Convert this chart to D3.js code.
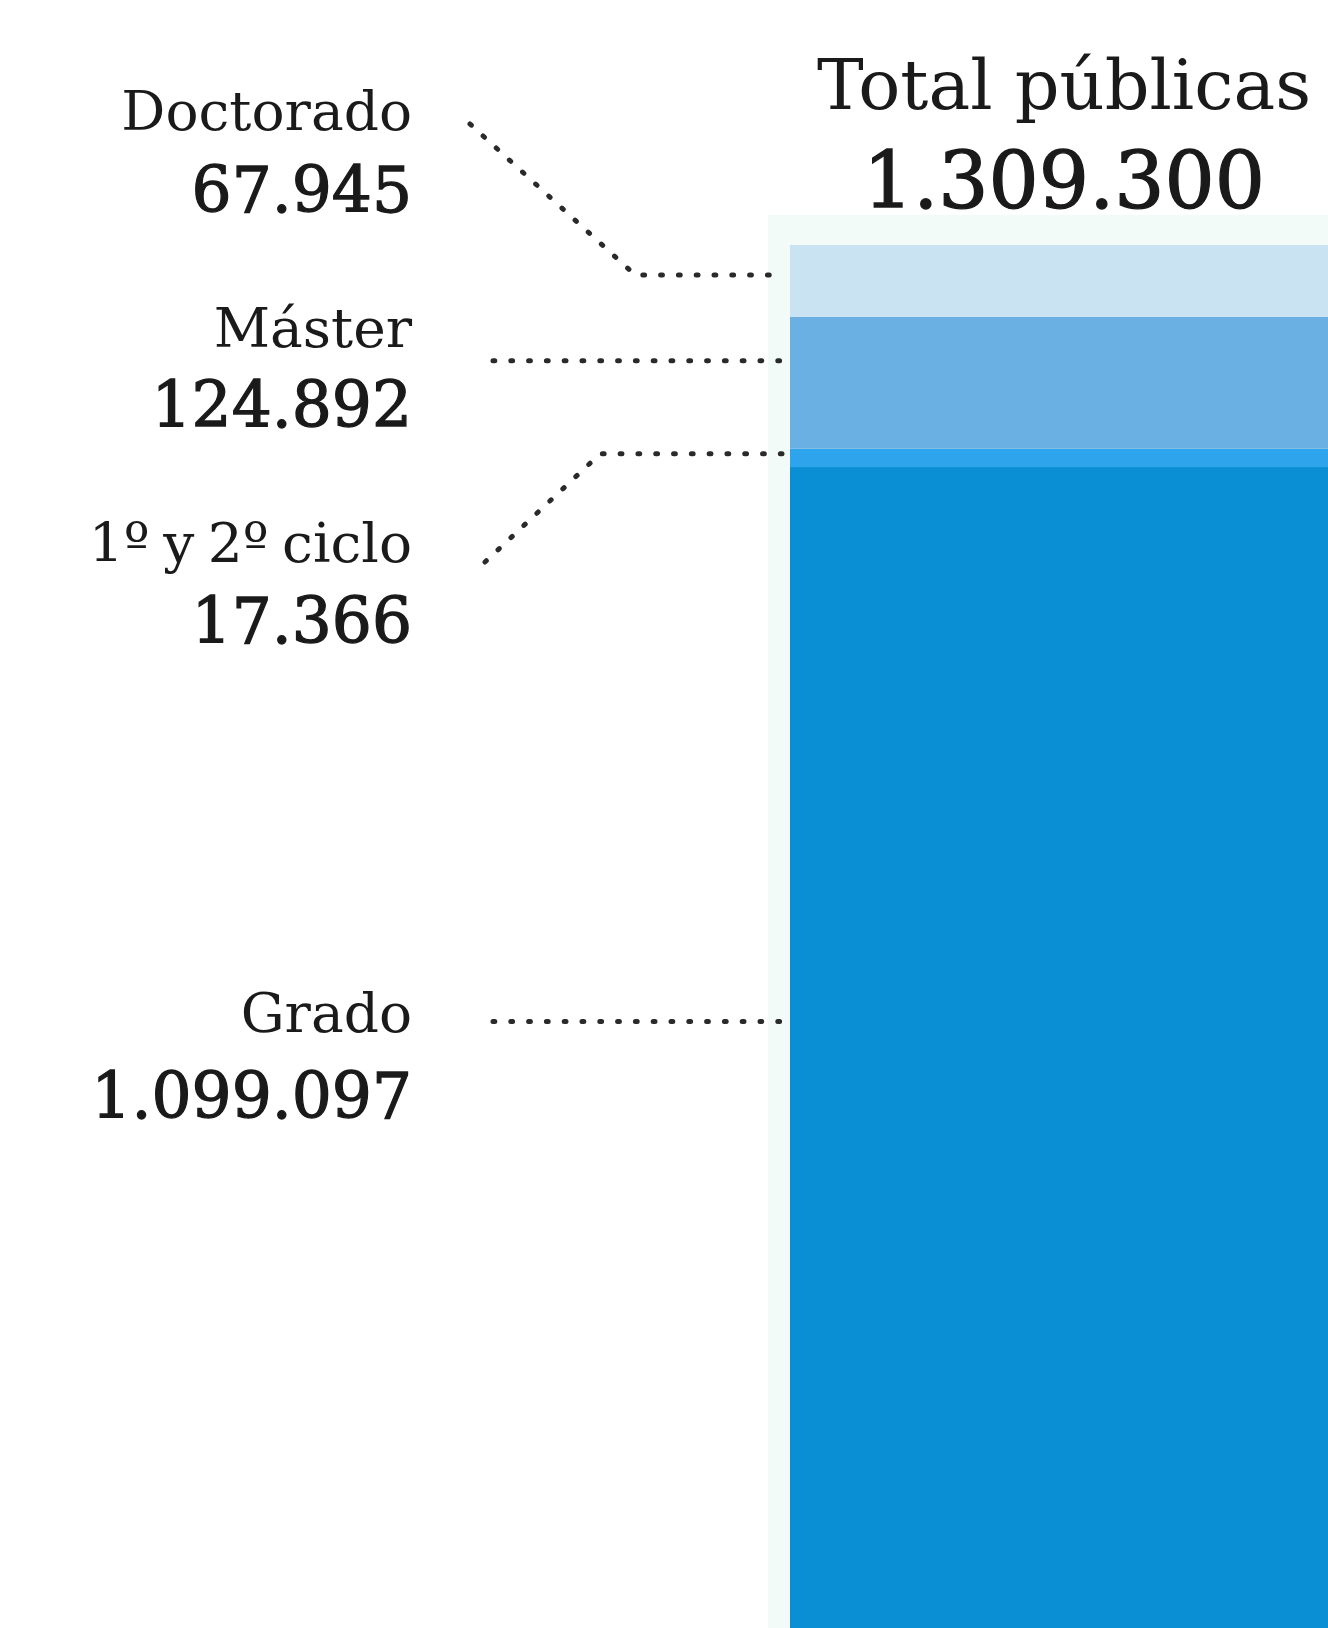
<!DOCTYPE html>
<html>
<head>
<meta charset="utf-8">
<script src="https://cdn.jsdelivr.net/npm/d3@7"></script>
<style>
  body { margin: 0; background: #fff; }
  svg { display: block; }
  text { font-family: "DejaVu Serif", "Liberation Serif", serif; fill: #1a1a1a; }
</style>
</head>
<body>
<svg></svg>
<script>
// DATA (stacked from the bottom up)
const categories = ["Grado", "1º y 2º ciclo", "Máster", "Doctorado"];
const values = [1099097, 17366, 124892, 67945];
const valueLabels = ["1.099.097", "17.366", "124.892", "67.945"];
const barName = "Total públicas";
const totalLabel = "1.309.300";
const colors = ["#0b8fd4", "#2ea4ec", "#6bb0e3", "#c9e3f3"];

const WIDTH = 1328;
const HEIGHT = 1628;
const BAR_TOP = 245;

// label layout (annotation placement only)
const LABEL_X = 412;
const labelLayout = {
    "Doctorado":     { nameY: 130,  valueY: 212,  from: [470, 124], elbowX: 635, nudge: -6 },
    "Máster":        { nameY: 347,  valueY: 427,  from: [493, null], elbowX: null, nudge: -22 },
    "1º y 2º ciclo": { nameY: 562,  valueY: 643,  from: [485, 562], elbowX: 600, nudge: -4 },
    "Grado":         { nameY: 1032, valueY: 1118, from: [493, null], elbowX: null, nudge: -26 }
};

const svg = d3.select('svg')
    .attr('width', WIDTH)
    .attr('height', HEIGHT);

const total = d3.sum(values);

//SCALES
const xScale = d3.scaleBand().domain([barName]).range([790, WIDTH + 20]).padding(0);
const yScale = d3.scaleLinear().domain([0, total]).range([HEIGHT, BAR_TOP]);

// stack
const stacked = [];
let acc = 0;
categories.forEach((c, i) => {
    stacked.push({ name: c, value: values[i], label: valueLabels[i], y0: acc, y1: acc + values[i], color: colors[i] });
    acc += values[i];
});

// faint panel behind the bar
svg.append('rect')
    .attr('x', xScale(barName) - 22)
    .attr('y', 215)
    .attr('width', WIDTH)
    .attr('height', HEIGHT)
    .attr('fill', '#f3fbf9');

//DRAW BAR SEGMENTS
svg.selectAll('.seg')
    .data(stacked)
    .enter()
    .append('rect')
    .attr('class', 'seg')
    .attr('x', xScale(barName))
    .attr('width', xScale.bandwidth())
    .attr('y', d => yScale(d.y1))
    .attr('height', d => yScale(d.y0) - yScale(d.y1))
    .attr('fill', d => d.color);

//TITLE
const cx = 1064;
svg.append('text')
    .attr('x', cx).attr('y', 109)
    .attr('text-anchor', 'middle')
    .attr('font-size', 70)
    .text(barName);
svg.append('text')
    .attr('x', cx).attr('y', 208)
    .attr('text-anchor', 'middle')
    .attr('font-size', 79)
    .attr('stroke', '#1a1a1a').attr('stroke-width', 1.3)
    .text(totalLabel);

//LABELS
const labels = svg.selectAll('.lab')
    .data(stacked)
    .enter()
    .append('g')
    .attr('class', 'lab');

labels.append('text')
    .attr('x', LABEL_X)
    .attr('y', d => labelLayout[d.name].nameY)
    .attr('text-anchor', 'end')
    .attr('font-size', 55)
    .attr('word-spacing', -4)
    .text(d => d.name);

labels.append('text')
    .attr('x', LABEL_X)
    .attr('y', d => labelLayout[d.name].valueY)
    .attr('text-anchor', 'end')
    .attr('font-size', 63)
    .attr('stroke', '#1a1a1a').attr('stroke-width', 1.3)
    .text(d => d.label);

//LEADER LINES
const barLeft = xScale(barName) - 8;
labels.append('path')
    .attr('fill', 'none')
    .attr('stroke', '#2a2a2a')
    .attr('stroke-width', 5)
    .attr('stroke-linecap', 'round')
    .attr('stroke-dasharray', '1.8 16')
    .attr('d', d => {
        const l = labelLayout[d.name];
        const y = (yScale(d.y0) + yScale(d.y1)) / 2 + l.nudge;
        const pts = [];
        if (l.elbowX !== null) {
            pts.push([l.from[0], l.from[1]]);
            pts.push([l.elbowX, y]);
        } else {
            pts.push([l.from[0], y]);
        }
        pts.push([barLeft, y]);
        return d3.line()(pts);
    });
</script>
</body>
</html>
